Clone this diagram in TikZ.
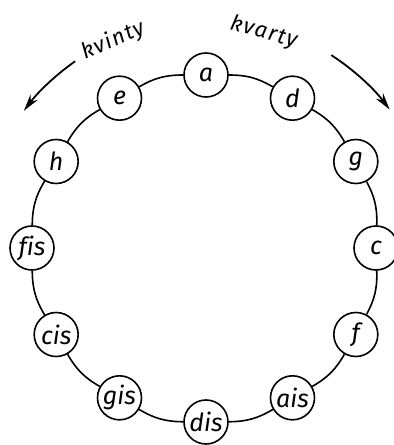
\documentclass[tikz,border=0pt]{standalone}
\usepackage{fontspec}
\setmainfont{Fira Sans}[Ligatures=NoCommon]
\usetikzlibrary{arrows.meta}
\begin{document}
\begin{tikzpicture}[x=1pt,y=1pt,
  note/.style={circle,draw,line width=1.6pt,fill=white,minimum size=44pt,inner sep=0pt,font=\fontsize{25}{25}\selectfont\itshape},
  link/.style={line width=1.6pt,bend left=15},
  turn/.style={line width=1.8pt,-{Stealth[length=17pt,width=9pt]}},
  lab/.style={font=\fontsize{22}{22}\selectfont\itshape\addfontfeature{LetterSpace=6}}]
\useasboundingbox (-206,-197) rectangle (188,248);
\coordinate (o) at (0,0);
\node[note] (a)   at (90:173)  {a};
\node[note] (d)   at (60:173)  {d};
\node[note] (g)   at (30:173)  {g};
\node[note] (c)   at (0:170)   {c};
\node[note] (f)   at (-30:173) {f};
\node[note] (ais) at (-60:173) {ais};
\node[note] (dis) at (-90:174) {dis};
\node[note] (gis) at (-120:173) {gis};
\node[note] (cis) at (-150:173) {cis};
\node[note] (fis) at (180:174) {fis};
\node[note] (h)   at (150:173) {h};
\node[note] (e)   at (120:173) {e};
\draw[link] (a) to (d);
\draw[link] (d) to (g);
\draw[link] (g) to (c);
\draw[link] (c) to (f);
\draw[link] (f) to (ais);
\draw[link] (ais) to (dis);
\draw[link] (dis) to (gis);
\draw[link] (gis) to (cis);
\draw[link] (cis) to (fis);
\draw[link] (fis) to (h);
\draw[link] (h) to (e);
\draw[link] (e) to (a);
\coordinate (ls) at (125:228);
\coordinate (rs) at (57:230);
\draw[turn] (ls) arc[start angle=125,end angle=143,radius=228];
\draw[turn] (rs) arc[start angle=57,end angle=37,radius=230];
\node[lab,rotate=24] (kvinty) at (114:227) {kvinty};
\node[lab,rotate=-15] (kvarty) at (75:223) {kvarty};
\end{tikzpicture}
\end{document}
